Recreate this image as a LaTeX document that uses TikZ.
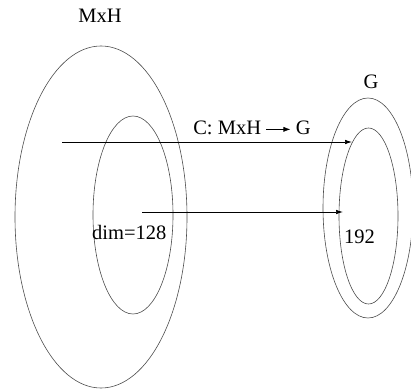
\documentclass[tikz,border=0pt]{standalone}
\usepackage{fontspec}
\setmainfont{Liberation Serif}
\usetikzlibrary{arrows.meta}

\begin{document}
\begin{tikzpicture}[x=1pt, y=-1pt,
    set/.style={draw=black!70, line width=0.6pt},
    map/.style={-{Latex[length=7pt, width=4.5pt]}, line width=0.7pt},
    lbl/.style={font=\fontsize{20.5}{24}\selectfont, inner sep=0pt}]

    \useasboundingbox (0,0) rectangle (411,390);

    % 定义关键坐标
    \coordinate (MH) at (101, 217);                 % MxH 外椭圆中心
    \coordinate (MHsub) at (133, 215);              % 内椭圆中心
    \coordinate (Gc) at (368, 208);                 % G 外椭圆中心
    \coordinate (Gsub) at (368.5, 216);             % G 内椭圆中心
    % 箭头端点
    \coordinate (A_start) at (62, 142);
    \coordinate (A_end) at (352, 142);
    \coordinate (B_start) at (142, 212);
    \coordinate (B_end) at (343, 212);

    % 画椭圆
    \draw[set] (MH) ellipse [x radius=86pt, y radius=171pt];
    \draw[set] (MHsub) ellipse [x radius=40pt, y radius=99pt];
    \draw[set] (Gc) ellipse [x radius=45pt, y radius=110pt];
    \draw[set] (Gsub) ellipse [x radius=29.5pt, y radius=88pt];

    % 映射箭头
    \draw[map] (A_start) -- (A_end);
    \draw[map] (B_start) -- (B_end);

    % 标签
    \node[lbl] (mxh) at (100, 16) {MxH};
    \node[lbl] (g) at (371, 82) {G};
    \node[lbl, anchor=base] (cmap) at (252, 135)
        {C: MxH \tikz[baseline=-0.6ex]\draw[-{Latex[length=7pt, width=5pt]}, line width=0.6pt] (0,0) -- (24pt,0); G};
    \node[lbl, anchor=west] (dim) at (92, 232) {dim=128};
    \node[lbl, anchor=west] (val) at (344, 237) {192};

\end{tikzpicture}
\end{document}
